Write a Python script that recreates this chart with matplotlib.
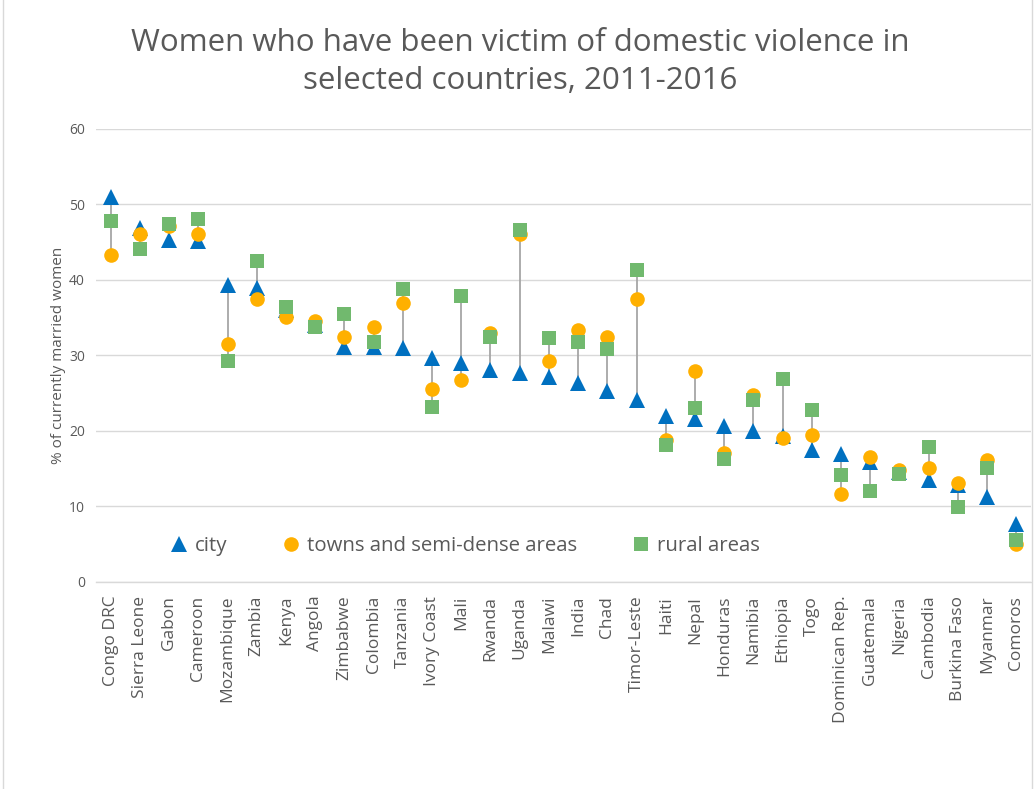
import matplotlib
matplotlib.use("Agg")
import matplotlib.pyplot as plt
from matplotlib.patches import Rectangle
import numpy as np

countries = ["Congo DRC", "Sierra Leone", "Gabon", "Cameroon", "Mozambique", "Zambia",
             "Kenya", "Angola", "Zimbabwe", "Colombia", "Tanzania", "Ivory Coast", "Mali",
             "Rwanda", "Uganda", "Malawi", "India", "Chad", "Timor-Leste", "Haiti", "Nepal",
             "Honduras", "Namibia", "Ethiopia", "Togo", "Dominican Rep.", "Guatemala",
             "Nigeria", "Cambodia", "Burkina Faso", "Myanmar", "Comoros"]

city = [51.0, 46.9, 45.3, 45.1, 39.3, 38.9, 36.0, 34.0, 31.1, 31.1, 31.0, 29.6, 29.0,
        28.0, 27.7, 27.1, 26.3, 25.3, 24.1, 21.9, 21.6, 20.6, 20.0, 19.3, 17.4, 16.9,
        15.9, 14.5, 13.5, 12.8, 11.2, 7.7]
towns = [43.2, 46.0, 47.1, 46.0, 31.5, 37.4, 35.1, 34.5, 32.4, 33.8, 36.9, 25.5, 26.7,
         32.9, 46.1, 29.3, 33.4, 32.4, 37.5, 18.8, 27.9, 17.1, 24.7, 19.1, 19.4, 11.7,
         16.5, 14.8, 15.1, 13.1, 16.1, 5.0]
rural = [47.8, 44.1, 47.4, 48.0, 29.3, 42.5, 36.4, 33.8, 35.4, 31.7, 38.7, 23.2, 37.9,
         32.4, 46.6, 32.3, 31.8, 30.8, 41.3, 18.1, 23.0, 16.3, 24.1, 26.9, 22.8, 14.1,
         12.1, 14.3, 17.9, 9.9, 15.1, 5.6]

title = "Women who have been victim of domestic violence in\nselected countries, 2011-2016"
y_label = "% of currently married women"
series_labels = ["city", "towns and semi-dense areas", "rural areas"]
y_ticks = [0, 10, 20, 30, 40, 50, 60]

plt.rcParams["font.family"] = ["Open Sans", "DejaVu Sans"]
text_color = "#595959"
grid_color = "#D9D9D9"

fig = plt.figure(figsize=(10.35, 7.89), dpi=100)
fig.patch.set_facecolor("white")
fig.patches.append(Rectangle((0.003, -0.01), 0.994, 1.02, transform=fig.transFigure,
                             fill=False, edgecolor="#D9D9D9", linewidth=1.0))

ax = fig.add_axes([0.0928, 0.2624, 0.9033, 0.5747])
x = np.arange(len(countries))

# high-low connector for each country
lows = np.minimum(np.minimum(city, towns), rural)
highs = np.maximum(np.maximum(city, towns), rural)
ax.vlines(x, lows, highs, color="#A6A6A6", linewidth=1.3, zorder=2)

ax.plot(x, city, linestyle="none", marker="^", markersize=11, color="#0070C0",
        markeredgewidth=0, label=series_labels[0], zorder=3)
ax.plot(x, towns, linestyle="none", marker="o", markersize=10.5, color="#FFB000",
        markeredgewidth=0, label=series_labels[1], zorder=4)
ax.plot(x, rural, linestyle="none", marker="s", markersize=9.5, color="#71B96E",
        markeredgewidth=0, label=series_labels[2], zorder=5)

ax.set_xlim(-0.5, len(countries) - 0.5)
ax.set_ylim(0, 60)
ax.set_yticks(y_ticks)
ax.set_yticklabels([str(t) for t in y_ticks], fontsize=10, color=text_color)
ax.set_xticks(x)
ax.set_xticklabels(countries, rotation=90, fontsize=12.5, color=text_color)
ax.tick_params(axis="both", length=0)
ax.tick_params(axis="x", pad=10)
ax.tick_params(axis="y", pad=8)
ax.grid(axis="y", color=grid_color, linewidth=1.0, zorder=0)
ax.set_axisbelow(True)
for side in ["top", "right", "left"]:
    ax.spines[side].set_visible(False)
ax.spines["bottom"].set_color(grid_color)
ax.spines["bottom"].set_linewidth(1.0)

ax.set_ylabel(y_label, fontsize=11, color=text_color, labelpad=2)

ax.legend(loc="lower left", bbox_to_anchor=(0.058, 0.017), ncol=3, frameon=False,
          fontsize=14.7, labelcolor=text_color, handletextpad=0.3, columnspacing=2.6,
          handlelength=1.0, markerscale=1.0)

fig.text(0.503, 0.922, title, ha="center", va="center", fontsize=22.5,
         color=text_color, linespacing=1.35)

fig.savefig("out.png", dpi=100, facecolor="white")
